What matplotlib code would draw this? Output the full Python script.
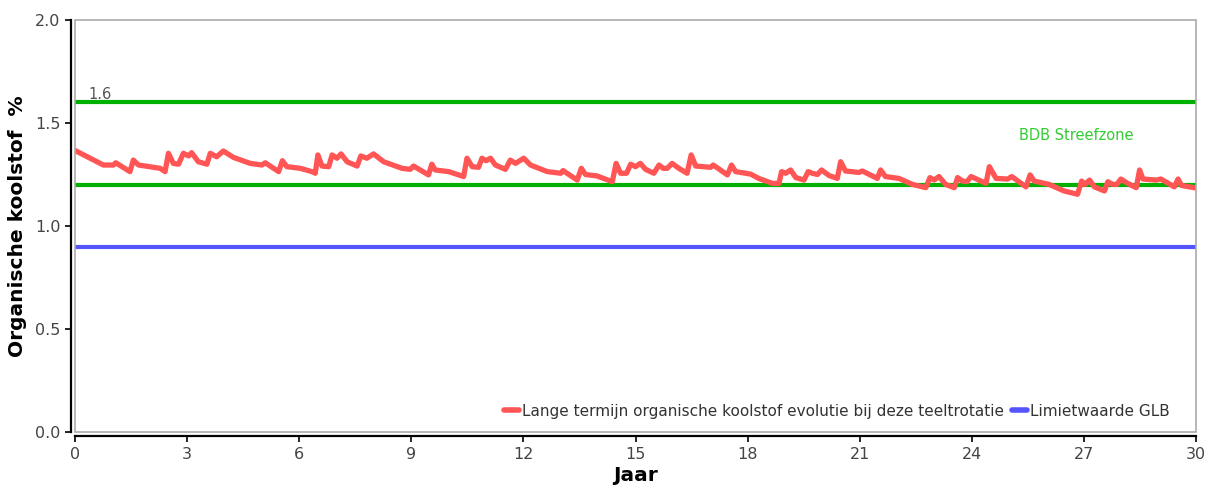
import matplotlib
matplotlib.use("Agg")
import matplotlib.pyplot as plt
from matplotlib.patches import Rectangle
from matplotlib.lines import Line2D

# Long-term organic carbon evolution (year, % OC)
years = [0.05, 0.76, 1.03, 1.09, 1.47, 1.56, 1.70, 2.28, 2.41, 2.50, 2.63, 2.77, 2.90, 3.04, 3.12,
         3.30, 3.53, 3.62, 3.79, 3.97, 4.24, 4.69, 5.00, 5.09, 5.45, 5.55, 5.67, 6.03, 6.34, 6.43,
         6.50, 6.61, 6.79, 6.88, 7.01, 7.12, 7.28, 7.55, 7.65, 7.81, 7.99, 8.26, 8.75, 8.97, 9.06,
         9.46, 9.55, 9.64, 10.00, 10.40, 10.49, 10.63, 10.80, 10.89, 11.00, 11.12, 11.25, 11.52, 11.65, 11.79,
         12.01, 12.19, 12.64, 13.00, 13.06, 13.44, 13.55, 13.66, 13.97, 14.38, 14.48, 14.60, 14.76, 14.87, 15.00,
         15.13, 15.27, 15.49, 15.63, 15.74, 15.85, 15.98, 16.16, 16.38, 16.49, 16.61, 17.01, 17.08, 17.46, 17.57,
         17.68, 18.08, 18.30, 18.66, 18.84, 18.91, 19.02, 19.15, 19.29, 19.51, 19.62, 19.73, 19.87, 19.98, 20.18,
         20.40, 20.49, 20.62, 20.98, 21.07, 21.47, 21.56, 21.69, 22.05, 22.41, 22.77, 22.88, 22.99, 23.12, 23.30,
         23.53, 23.62, 23.75, 23.87, 23.98, 24.38, 24.47, 24.65, 24.96, 25.07, 25.45, 25.56, 25.67, 26.07, 26.47,
         26.83, 26.94, 27.03, 27.15, 27.28, 27.55, 27.64, 27.77, 27.88, 27.99, 28.17, 28.40, 28.49, 28.58, 28.93,
         29.06, 29.42, 29.52, 29.61, 29.95]
carbon = [1.362, 1.296, 1.296, 1.307, 1.264, 1.320, 1.296, 1.280, 1.264, 1.353, 1.304, 1.300, 1.353, 1.340, 1.356,
          1.312, 1.300, 1.353, 1.336, 1.364, 1.333, 1.304, 1.296, 1.307, 1.264, 1.317, 1.288, 1.280, 1.264, 1.256,
          1.345, 1.291, 1.288, 1.345, 1.329, 1.350, 1.312, 1.291, 1.340, 1.329, 1.350, 1.312, 1.280, 1.275, 1.291,
          1.248, 1.300, 1.272, 1.264, 1.240, 1.329, 1.288, 1.285, 1.329, 1.317, 1.329, 1.296, 1.275, 1.320, 1.304,
          1.329, 1.296, 1.264, 1.256, 1.269, 1.223, 1.280, 1.250, 1.243, 1.215, 1.304, 1.256, 1.256, 1.300, 1.288,
          1.304, 1.275, 1.256, 1.296, 1.280, 1.280, 1.304, 1.280, 1.256, 1.345, 1.291, 1.285, 1.296, 1.248, 1.296,
          1.264, 1.252, 1.231, 1.207, 1.207, 1.264, 1.256, 1.272, 1.235, 1.223, 1.264, 1.256, 1.250, 1.272, 1.245,
          1.231, 1.312, 1.267, 1.260, 1.267, 1.231, 1.272, 1.240, 1.231, 1.202, 1.186, 1.235, 1.223, 1.240, 1.202,
          1.186, 1.235, 1.218, 1.215, 1.240, 1.207, 1.288, 1.231, 1.228, 1.240, 1.190, 1.248, 1.218, 1.202, 1.170,
          1.154, 1.218, 1.202, 1.223, 1.190, 1.170, 1.215, 1.202, 1.202, 1.228, 1.207, 1.186, 1.272, 1.228, 1.223,
          1.228, 1.190, 1.228, 1.197, 1.186]

streefzone_upper = 1.6
streefzone_lower = 1.2
limietwaarde = 0.9

x_ticks = list(range(0, 31, 3))
y_ticks = [0.0, 0.5, 1.0, 1.5, 2.0]

red = "#ff5555"
green = "#00b000"
blue = "#5555ff"
tick_gray = "#444444"

fig = plt.figure(figsize=(12.06, 4.86), dpi=100)
ax = fig.add_axes([75 / 1206, (486 - 432) / 486, (1196 - 75) / 1206, 412 / 486])

ax.axhline(streefzone_upper, color=green, lw=3.0, zorder=2)
ax.axhline(streefzone_lower, color=green, lw=3.0, zorder=2)
ax.axhline(limietwaarde, color=blue, lw=3.0, zorder=2)
ax.plot(years, carbon, color=red, lw=3.8, solid_joinstyle="round", zorder=3)

ax.text(0.35, streefzone_upper + 0.003, "1.6", color="#555555", fontsize=10.5, va="bottom", ha="left")
ax.text(26.8, 1.44, "BDB Streefzone", color="#33cc33", fontsize=10.5, va="center", ha="center")

ax.set_xlim(0, 30)
ax.set_ylim(0, 2.0)
ax.set_xticks(x_ticks)
ax.set_yticks(y_ticks)
ax.set_yticklabels([f"{v:.1f}" for v in y_ticks])
ax.tick_params(axis="both", colors="black", labelcolor=tick_gray, labelsize=11.5,
               length=4, width=1.2, direction="out")

# Plot frame in light gray, axes lines in black slightly outside
for side in ["top", "right"]:
    ax.spines[side].set_visible(False)
for side in ["left", "bottom"]:
    ax.spines[side].set_position(("outward", 3))
    ax.spines[side].set_color("black")
    ax.spines[side].set_linewidth(1.6)
ax.add_patch(Rectangle((0, 0), 1, 1, transform=ax.transAxes, fill=False,
                       edgecolor="#aaaaaa", lw=1.2, zorder=5, clip_on=False))

ax.set_xlabel("Jaar", fontsize=14.5, fontweight="bold", labelpad=3)
ax.set_ylabel("Organische koolstof  %", fontsize=14.5, fontweight="bold", labelpad=6)

handles = [Line2D([], [], color=red, lw=4, solid_capstyle="round"),
           Line2D([], [], color=blue, lw=4, solid_capstyle="round")]
labels = ["Lange termijn organische koolstof evolutie bij deze teeltrotatie", "Limietwaarde GLB"]
leg = ax.legend(handles, labels, loc="lower right", bbox_to_anchor=(0.985, 0.01), frameon=False,
                fontsize=11, handlelength=1.0, handletextpad=0.2, columnspacing=0.5, ncol=2,
                borderaxespad=0.2)
for t in leg.get_texts():
    t.set_color("#333333")

fig.savefig("out.png", dpi=100)
